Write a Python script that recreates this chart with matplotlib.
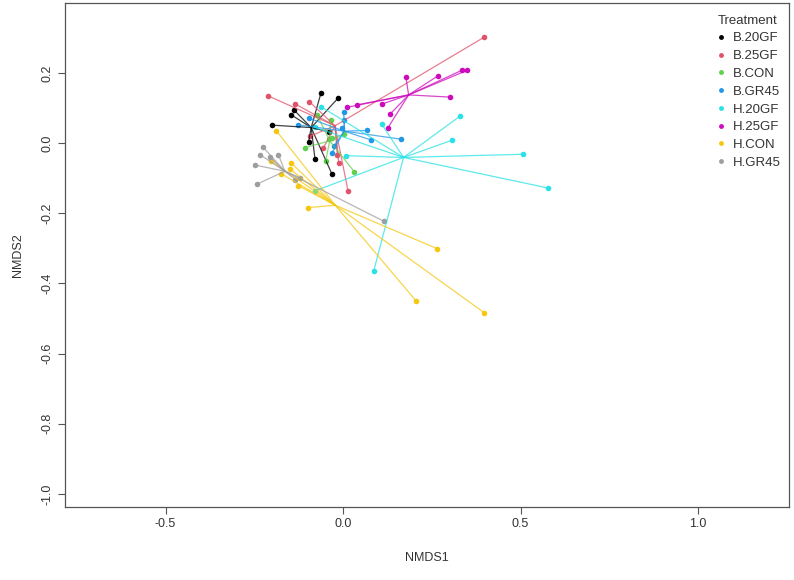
import numpy as np
import matplotlib

matplotlib.use("Agg")
import matplotlib.pyplot as plt
from matplotlib.lines import Line2D

plt.rcParams["font.family"] = ["Liberation Sans", "DejaVu Sans"]

# NMDS site scores
groups = ["B.20GF", "B.25GF", "B.CON", "B.GR45", "H.20GF", "H.25GF", "H.CON", "H.GR45"]
colors = ["#000000", "#DF536B", "#61D04F", "#2297E6", "#28E2E5", "#CD0BBC", "#F5C710", "#9E9E9E"]

b20gf_x = [-0.062, -0.014, -0.137, -0.147, -0.200, -0.097, -0.079, -0.031, -0.040]
b20gf_y = [0.143, 0.128, 0.093, 0.081, 0.051, 0.004, -0.046, -0.089, 0.032]

b25gf_x = [-0.210, -0.134, -0.095, -0.092, -0.056, -0.016, -0.012, 0.014, 0.398]
b25gf_y = [0.134, 0.111, 0.118, 0.020, -0.015, -0.034, -0.058, -0.136, 0.302]

bcon_x = [-0.035, -0.073, -0.106, -0.049, 0.032, -0.040, -0.031, 0.002]
bcon_y = [0.066, 0.080, -0.013, -0.051, -0.082, 0.011, 0.013, 0.026]

bgr45_x = [0.002, 0.004, -0.002, 0.068, 0.078, 0.164, -0.026, -0.031, -0.127, -0.097]
bgr45_y = [0.088, 0.067, 0.042, 0.036, 0.009, 0.011, -0.009, -0.028, 0.052, 0.071]

h20gf_x = [0.330, 0.307, 0.506, 0.577, 0.109, 0.009, 0.086, -0.078, -0.063, -0.080]
h20gf_y = [0.077, 0.008, -0.032, -0.128, 0.054, -0.036, -0.366, -0.136, 0.104, 0.045]

h25gf_x = [0.177, 0.268, 0.334, 0.349, 0.301, 0.132, 0.126, 0.109, 0.040, 0.012]
h25gf_y = [0.187, 0.192, 0.207, 0.207, 0.131, 0.082, 0.043, 0.111, 0.109, 0.102]

hcon_x = [-0.188, -0.203, -0.175, -0.147, -0.148, -0.127, -0.099, 0.265, 0.205, 0.397]
hcon_y = [0.035, -0.051, -0.087, -0.056, -0.075, -0.121, -0.184, -0.301, -0.449, -0.483]

hgr45_x = [-0.226, -0.234, -0.182, -0.247, -0.242, -0.206, -0.134, -0.120, 0.115]
hgr45_y = [-0.011, -0.033, -0.033, -0.063, -0.117, -0.040, -0.104, -0.099, -0.223]

xs = [b20gf_x, b25gf_x, bcon_x, bgr45_x, h20gf_x, h25gf_x, hcon_x, hgr45_x]
ys = [b20gf_y, b25gf_y, bcon_y, bgr45_y, h20gf_y, h25gf_y, hcon_y, hgr45_y]

x_ticks = [-0.5, 0.0, 0.5, 1.0]
y_ticks = [0.2, 0.0, -0.2, -0.4, -0.6, -0.8, -1.0]

fig = plt.figure(figsize=(7.94, 5.80), dpi=100)
ax = fig.add_axes([0.0819, 0.1259, 0.9118, 0.8689])

# points first, then spider lines from each group centroid
for gx, gy, col in zip(xs, ys, colors):
    ax.plot(gx, gy, "o", color=col, markersize=4, markeredgewidth=0, zorder=2)

for gx, gy, col in zip(xs, ys, colors):
    cx, cy = np.mean(gx), np.mean(gy)
    for px, py in zip(gx, gy):
        ax.plot([cx, px], [cy, py], color=col, linewidth=0.9, alpha=0.75, zorder=3)

ax.set_xlim(-0.783, 1.256)
ax.set_ylim(-1.037, 0.399)
ax.set_xticks(x_ticks)
ax.set_xticklabels([f"{v:.1f}" for v in x_ticks])
ax.set_yticks(y_ticks)
ax.set_yticklabels([f"{v:.1f}" for v in y_ticks], rotation=90, va="center")

ax.tick_params(direction="out", length=5, width=0.8, color="#555555",
               labelsize=9, labelcolor="#333333", pad=3)
for s in ax.spines.values():
    s.set_color("#555555")
    s.set_linewidth(0.9)

ax.set_xlabel("NMDS1", fontsize=9, color="#333333", labelpad=16)
ax.set_ylabel("NMDS2", fontsize=9, color="#333333", labelpad=13)

handles = [Line2D([], [], linestyle="none", marker="o", markersize=3.5,
                  markeredgewidth=0, color=c) for c in colors]
leg = ax.legend(handles, groups, title="Treatment", loc="upper right",
                bbox_to_anchor=(1.0, 0.994),
                frameon=False, fontsize=9.5, title_fontsize=9.5, labelspacing=0.42,
                handlelength=0.8, handletextpad=0.5, borderaxespad=0.25)
for t in leg.get_texts():
    t.set_color("#333333")
leg.get_title().set_color("#333333")

plt.savefig("out.png", dpi=100)
plt.close()
